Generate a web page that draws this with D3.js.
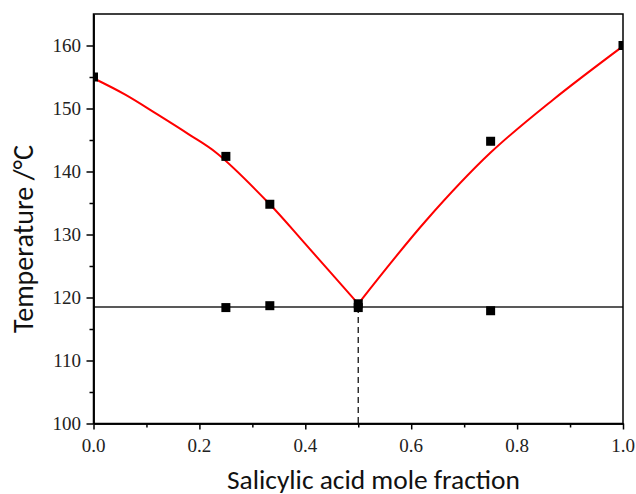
<!DOCTYPE html>
<html><head><meta charset="utf-8">
<script src="https://cdn.jsdelivr.net/npm/d3@7"></script>
<style>
body{margin:0;background:#fff}
</style>
</head><body>
<svg id="c" width="636" height="494"></svg>
<script>
// ---- data ----
const liquidusX = [0, 0.25, 0.333, 0.5, 0.75, 1.0];
const liquidusT = [155.0, 142.4, 134.8, 119.0, 144.8, 160.0];
const solidusX = [0.25, 0.333, 0.5, 0.75];
const solidusT = [118.4, 118.7, 118.4, 117.9];
const eutecticT = 118.5;
const eutecticX = 0.5;
const fitLeftX = [0, 0.06, 0.12, 0.18, 0.233, 0.333, 0.4, 0.5];
const fitLeftT = [154.8, 152.2, 149.1, 145.9, 142.9, 134.8, 128.5, 119.0];
const fitRightX = [0.5, 0.629, 0.75, 0.868, 1.0];
const fitRightT = [119.0, 132.3, 143.0, 151.4, 159.9];
const xTicks = [0, 0.2, 0.4, 0.6, 0.8, 1.0];
const xMinor = [0.1, 0.3, 0.5, 0.7, 0.9];
const yTicks = [100, 110, 120, 130, 140, 150, 160];
const yMinor = [105, 115, 125, 135, 145, 155];
const xTitle = "Salicylic acid mole fraction";
const yTitle = "Temperature /°C";

const svg = d3.select("#c");
const L = 93.5, R = 623, T = 14, B = 423.5;
const x = d3.scaleLinear().domain([0, 1]).range([L, R]);
const y = d3.scaleLinear().domain([100, 165]).range([B, T]);

svg.append("defs").append("clipPath").attr("id", "clip")
  .append("rect").attr("x", L).attr("y", T).attr("width", R - L).attr("height", B - T);

const plot = svg.append("g").attr("clip-path", "url(#clip)");

plot.append("line")
  .attr("x1", x(0)).attr("x2", x(1))
  .attr("y1", y(eutecticT)).attr("y2", y(eutecticT))
  .attr("stroke", "#222").attr("stroke-width", 1.4);

plot.append("line")
  .attr("x1", x(eutecticX)).attr("x2", x(eutecticX))
  .attr("y1", y(eutecticT)).attr("y2", y(100))
  .attr("stroke", "#222").attr("stroke-width", 1.4)
  .attr("stroke-dasharray", "6,4");

const line = d3.line().x(d => x(d[0])).y(d => y(d[1])).curve(d3.curveCatmullRom.alpha(0.5));
[[fitLeftX, fitLeftT], [fitRightX, fitRightT]].forEach(([xs, ts]) => {
  plot.append("path")
    .attr("d", line(xs.map((v, i) => [v, ts[i]])))
    .attr("fill", "none").attr("stroke", "#ff0000").attr("stroke-width", 2);
});

const sz = 9;
const pts = liquidusX.map((v, i) => [v, liquidusT[i]])
  .concat(solidusX.map((v, i) => [v, solidusT[i]]));
plot.selectAll("rect.m").data(pts).enter().append("rect")
  .attr("class", "m")
  .attr("x", d => x(d[0]) - sz / 2).attr("y", d => y(d[1]) - sz / 2)
  .attr("width", sz).attr("height", sz).attr("fill", "#000");

svg.append("rect").attr("x", L).attr("y", T).attr("width", R - L).attr("height", B - T)
  .attr("fill", "none").attr("stroke", "#000").attr("stroke-width", 1.5);

const xa = svg.append("g").attr("transform", `translate(0,${B})`)
  .call(d3.axisBottom(x).tickValues(xTicks).tickFormat("").tickSize(6).tickSizeOuter(0));
const xm = svg.append("g").attr("transform", `translate(0,${B})`)
  .call(d3.axisBottom(x).tickValues(xMinor).tickFormat("").tickSize(4).tickSizeOuter(0));
const ya = svg.append("g").attr("transform", `translate(${L},0)`)
  .call(d3.axisLeft(y).tickValues(yTicks).tickFormat("").tickSize(7).tickSizeOuter(0));
const ym = svg.append("g").attr("transform", `translate(${L},0)`)
  .call(d3.axisLeft(y).tickValues(yMinor).tickFormat("").tickSize(4).tickSizeOuter(0));
[xa, xm, ya, ym].forEach(g => {
  g.select(".domain").attr("stroke", "#000").attr("stroke-width", 1.5);
  g.selectAll(".tick line").attr("stroke", "#000").attr("stroke-width", 1.5);
});
const serif = "'Liberation Serif', 'Times New Roman', serif";
const fx = d3.format(".1f");
svg.append("g").selectAll("text").data(xTicks).enter().append("text")
  .attr("x", d => x(d)).attr("y", B + 28.5).attr("text-anchor", "middle")
  .style("font-family", serif).style("font-size", "19px").attr("fill", "#222")
  .text(d => fx(d));
svg.append("g").selectAll("text").data(yTicks).enter().append("text")
  .attr("x", L - 12.5).attr("y", d => y(d)).attr("dy", "0.34em").attr("text-anchor", "end")
  .style("font-family", serif).style("font-size", "19px").attr("fill", "#222")
  .text(d => d);

const tf = "Carlito, Lato, 'Open Sans', sans-serif";
const xt = svg.append("text").attr("x", 373.5).attr("y", 489).attr("text-anchor", "middle")
  .attr("font-family", tf).attr("font-size", 26).attr("fill", "#111").text(xTitle);
const yt = svg.append("text").attr("transform", "translate(33,239) rotate(-90)").attr("text-anchor", "middle")
  .attr("font-family", tf).attr("font-size", 26).attr("fill", "#111").text(yTitle);
const fit = (t, w) => { const cur = t.node().getComputedTextLength(); t.attr("font-size", 26 * w / cur); };
fit(xt, 293);
fit(yt, 188);
</script>
</body></html>
